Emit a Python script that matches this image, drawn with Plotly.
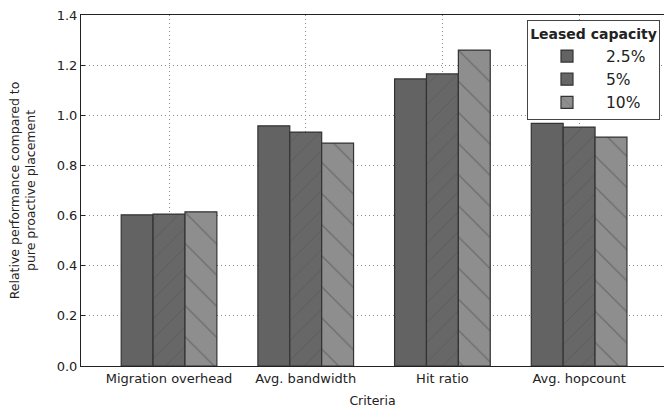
import plotly.graph_objects as go

categories = ["Migration overhead", "Avg. bandwidth", "Hit ratio", "Avg. hopcount"]
series_names = ["2.5%", "5%", "10%"]
values_25 = [0.603, 0.958, 1.145, 0.968]
values_5 = [0.606, 0.933, 1.165, 0.953]
values_10 = [0.615, 0.889, 1.260, 0.913]
y_ticks = [0.0, 0.2, 0.4, 0.6, 0.8, 1.0, 1.2, 1.4]

series_values = [values_25, values_5, values_10]
fills = ["#636363", "#676767", "#8e8e8e"]
patterns = ["", "/", "\\"]
pattern_sizes = [10, 14, 22]

FONT = "DejaVu Sans"
fig = go.Figure()
xs = list(range(len(categories)))
for name, vals, fc, pat, ps in zip(series_names, series_values, fills, patterns, pattern_sizes):
    fig.add_trace(go.Bar(
        x=xs, y=vals, name=name,
        marker=dict(color=fc, line=dict(color="#333333", width=1.2),
                    pattern=dict(shape=pat, fgcolor="#4a4a4a", size=ps, solidity=0.06, fillmode="overlay")),
    ))

fig.update_layout(
    width=664, height=408,
    margin=dict(l=81, r=0, t=15, b=42),
    plot_bgcolor="white", paper_bgcolor="white",
    barmode="group", bargap=0.3, bargroupgap=0,
    font=dict(family=FONT, color="#222222", size=12),
    showlegend=True,
    legend=dict(
        title=dict(text="<b>Leased capacity</b>", font=dict(size=14, family=FONT), side="top center"),
        x=0.765, y=0.985, xanchor="left", yanchor="top",
        bgcolor="white", bordercolor="#444444", borderwidth=1,
        font=dict(size=15.5, family=FONT), itemwidth=68, tracegroupgap=2,
    ),
    xaxis=dict(
        tickmode="array", tickvals=xs, ticktext=categories,
        range=[-0.644, 3.621], automargin=False,
        showline=True, linecolor="#222222", linewidth=1, mirror=True,
        showgrid=True, gridcolor="#8a8a8a", griddash="1px,3px", gridwidth=1,
        ticks="", tickfont=dict(size=13, family=FONT),
        title=dict(text="Criteria", font=dict(size=12.5, family=FONT), standoff=21),
        zeroline=False,
    ),
    yaxis=dict(
        range=[0, 1.4], tickvals=y_ticks, tickformat=".1f", automargin=False,
        showline=True, linecolor="#222222", linewidth=1,
        showgrid=True, gridcolor="#8a8a8a", griddash="1px,3px", gridwidth=1,
        ticks="inside", ticklen=4, tickcolor="#222222",
        tickfont=dict(size=13, family=FONT),
        title=dict(text="Relative performance compared to<br>pure proactive placement",
                   font=dict(size=12.5, family=FONT), standoff=18),
        zeroline=False,
    ),
)

fig.write_html("out.html", config={"displayModeBar": False},
               post_script="document.body.style.margin='0';")
